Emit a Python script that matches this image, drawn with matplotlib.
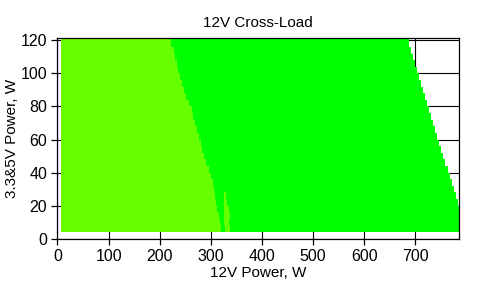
import numpy as np
from matplotlib import pyplot as plt

# Row edges of the cross-load map (3.3&5V power, W)
row_edges = [4, 8, 12, 16, 20, 24, 28, 32, 36, 40, 44, 48, 52, 56, 60,
             64, 68, 72, 76, 80, 84, 88, 92, 96, 100, 104, 108, 112, 116, 122]

# 12V power where each row starts
row_start = [6] * 29

# 12V power where the light green zone ends
light_end = [320, 318, 316, 313, 310, 308, 306, 304, 301, 296, 290, 287,
             283, 280, 276, 272, 270, 266, 263, 258, 251, 248, 244, 239,
             235, 234, 230, 228, 222]

# 12V power where each row ends
row_end = [799, 795, 791, 787, 783, 779, 775, 771, 767, 763, 759, 755,
           751, 747, 743, 739, 735, 731, 727, 723, 719, 715, 711, 707,
           703, 699, 695, 691, 687]

# small light green island near 330 W
island_rows = [4, 8, 12, 16, 20, 24]
island_height = [4, 4, 4, 4, 4, 4]
island_start = [327, 326, 326, 326, 326, 326]
island_end = [338, 336, 338, 336, 332, 330]

light_color = "#66ff00"
green_color = "#00ff00"

fig = plt.figure(figsize=(4.87, 2.86), dpi=100)
ax = fig.add_axes([0.118, 0.1654, 0.824, 0.7006])

bottoms = np.array(row_edges[:-1])
heights = np.diff(row_edges)
start = np.array(row_start)
lend = np.array(light_end)
rend = np.array(row_end)

ax.barh(bottoms, lend - start, left=start, height=heights, align="edge",
        color=light_color, linewidth=0, antialiased=False, zorder=2)
ax.barh(bottoms, rend - lend, left=lend, height=heights, align="edge",
        color=green_color, linewidth=0, antialiased=False, zorder=2)
ax.barh(island_rows, np.array(island_end) - np.array(island_start),
        left=island_start, height=island_height, align="edge",
        color=light_color, linewidth=0, antialiased=False, zorder=3)

ax.set_xlim(0, 785)
ax.set_ylim(0, 121.2)
ax.set_xticks(range(0, 701, 100))
ax.set_yticks(range(0, 121, 20))
ax.grid(True, color="black", linewidth=0.8, zorder=1)
ax.set_axisbelow(True)
for side in ax.spines.values():
    side.set_linewidth(0.9)
    side.set_zorder(5)

font = "Liberation Sans"
ax.tick_params(direction="out", length=4, width=0.9, labelsize=11.5)
for label in ax.get_xticklabels() + ax.get_yticklabels():
    label.set_family(font)
ax.set_xlabel("12V Power, W", fontsize=11, family=font, labelpad=1)
ax.set_ylabel("3.3&5V Power, W", fontsize=11, family=font, labelpad=1)
ax.set_title("12V Cross-Load", fontsize=11, family=font, pad=8)

fig.savefig("out.png", dpi=100)
